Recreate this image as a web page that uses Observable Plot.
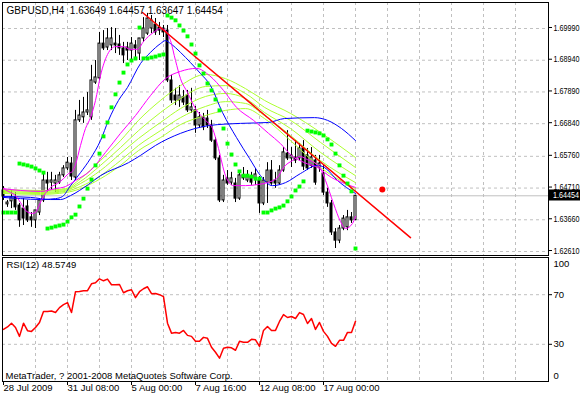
<!DOCTYPE html>
<html><head><meta charset="utf-8">
<script src="https://cdn.jsdelivr.net/npm/d3@7"></script>
<script src="https://cdn.jsdelivr.net/npm/@observablehq/plot@0.6"></script>
<style>
body{margin:0;background:#fff;}
#chart{position:relative;width:580px;height:398px;overflow:hidden;background:#fff;}
#chart svg{display:block;}
</style></head><body><div id="chart"></div>
<script>
// ---- Data ----
const symbol = "GBPUSD", timeframe = "H4";
const open = [1.6463,1.6417,1.6427,1.6440,1.6413,1.6403,1.6410,1.6374,1.6364,1.6390,
1.6430,1.6496,1.6489,1.6486,1.6489,1.6513,1.6536,1.6552,1.6506,1.6695,
1.6705,1.6721,1.6705,1.6820,1.6834,1.6949,1.6936,1.6943,1.6949,1.6946,
1.6933,1.6936,1.6926,1.6943,1.6916,1.6966,1.6982,1.6999,1.7012,1.7002,
1.6999,1.6992,1.6827,1.6777,1.6761,1.6771,1.6777,1.6728,1.6728,1.6678,
1.6705,1.6701,1.6678,1.6628,1.6569,1.6430,1.6503,1.6489,1.6486,1.6436,
1.6513,1.6496,1.6509,1.6503,1.6496,1.6420,1.6489,1.6529,1.6496,1.6486,
1.6529,1.6585,1.6569,1.6572,1.6569,1.6602,1.6579,1.6545,1.6562,1.6539,
1.6519,1.6456,1.6420,1.6324,1.6297,1.6337,1.6341,1.6374,1.63649];
const high = [1.6476,1.6430,1.6463,1.6456,1.6420,1.6436,1.6430,1.6390,1.6397,1.6436,
1.6519,1.6523,1.6523,1.6513,1.6523,1.6545,1.6572,1.6572,1.6728,1.6761,
1.6771,1.6787,1.6877,1.6893,1.6986,1.6992,1.6999,1.7002,1.6999,1.6976,
1.6953,1.6953,1.6969,1.6959,1.6966,1.7035,1.7049,1.7042,1.7032,1.7019,
1.7009,1.7009,1.6844,1.6801,1.6810,1.6794,1.6794,1.6801,1.6741,1.6721,
1.6718,1.6728,1.6695,1.6638,1.6579,1.6513,1.6529,1.6523,1.6503,1.6523,
1.6539,1.6529,1.6523,1.6536,1.6509,1.6506,1.6555,1.6562,1.6523,1.6545,
1.6605,1.6661,1.6605,1.6628,1.6618,1.6628,1.6602,1.6605,1.6579,1.6579,
1.6545,1.6470,1.6430,1.6337,1.6347,1.6380,1.6397,1.6390,1.64457];
const low = [1.6430,1.6407,1.6403,1.6397,1.6341,1.6347,1.6357,1.6341,1.6337,1.6380,
1.6423,1.6456,1.6463,1.6456,1.6483,1.6506,1.6529,1.6496,1.6496,1.6688,
1.6685,1.6711,1.6695,1.6814,1.6827,1.6926,1.6926,1.6926,1.6916,1.6910,
1.6883,1.6893,1.6893,1.6893,1.6893,1.6953,1.6976,1.6982,1.6976,1.6976,
1.6969,1.6820,1.6751,1.6744,1.6738,1.6744,1.6721,1.6718,1.6652,1.6668,
1.6661,1.6668,1.6622,1.6562,1.6423,1.6423,1.6480,1.6480,1.6423,1.6430,
1.6496,1.6489,1.6480,1.6480,1.6387,1.6413,1.6420,1.6480,1.6470,1.6480,
1.6523,1.6562,1.6539,1.6552,1.6562,1.6529,1.6529,1.6536,1.6480,1.6523,
1.6446,1.6407,1.6314,1.6271,1.6287,1.6330,1.6330,1.6354,1.63647];
const close = [1.6443,1.6423,1.6440,1.6407,1.6364,1.6370,1.6364,1.6364,1.6397,1.6430,
1.6496,1.6486,1.6496,1.6496,1.6513,1.6536,1.6555,1.6509,1.6695,1.6711,
1.6721,1.6728,1.6827,1.6837,1.6949,1.6933,1.6966,1.6966,1.6943,1.6933,
1.6910,1.6926,1.6949,1.6933,1.6966,1.6999,1.7032,1.7026,1.6986,1.6992,
1.6986,1.6827,1.6761,1.6761,1.6777,1.6754,1.6728,1.6738,1.6678,1.6705,
1.6672,1.6678,1.6628,1.6569,1.6430,1.6496,1.6486,1.6503,1.6436,1.6513,
1.6503,1.6513,1.6489,1.6516,1.6420,1.6496,1.6529,1.6486,1.6486,1.6529,
1.6589,1.6569,1.6579,1.6562,1.6602,1.6542,1.6536,1.6572,1.6489,1.6552,
1.6456,1.6420,1.6324,1.6297,1.6337,1.6370,1.6374,1.6364,1.64454];

const sarValue = [1.6390,1.6390,1.6390,1.6390,1.6552,1.6549,1.6546,1.6542,1.6536,1.6529,
1.6522,1.6337,1.6340,1.6344,1.6347,1.6350,1.6360,1.6374,1.6383,1.6410,
1.6436,1.6469,1.6499,1.6546,1.6585,1.6642,1.6688,1.6738,1.6781,1.6820,
1.6853,1.6880,1.6893,1.6900,1.7002,1.6900,1.6900,1.6903,1.6906,1.6910,
1.6913,1.7042,1.7035,1.7026,1.7009,1.6992,1.6973,1.6946,1.6916,1.6877,
1.6850,1.6817,1.6794,1.6764,1.6728,1.6668,1.6618,1.6582,1.6549,1.6526,
1.6512,1.6512,1.6509,1.6502,1.6502,1.6390,1.6390,1.6397,1.6403,1.6407,
1.6413,1.6427,1.6443,1.6463,1.6476,1.6493,1.6661,1.6658,1.6655,1.6652,
1.6645,1.6632,1.6615,1.6585,1.6546,1.6512,1.6486,1.6460,1.6271];

const rsiValue = [42,44,47,43.6,36.4,47,41,40.4,43.6,47.6,
56.4,56.4,56.8,55.6,59.6,62,63.6,55.6,72.4,72.6,
73.2,73.2,78.8,79.6,82.8,81.2,82.6,78,78,78.2,
71.6,73.2,74,67.6,72.4,74.8,76.4,70.8,71,70,
68.4,47,39,39.6,39,41.2,37.2,36.4,32.4,32.4,
35.6,34.8,27.6,23.6,18.8,26.8,27.6,27.2,25.2,32.4,
31.6,31.6,34,33.6,28.4,41.2,44.4,41.2,41.2,48.4,
54,51.6,52.4,50.8,55.6,54,46.8,50.8,42,47.6,
40.4,36.4,30.8,28.4,33.2,33.2,39.6,39.6,48.5749];

// moving averages (bar position, price)
const maFastBar = [0,1.75,3,4.25,5.5,7.25,8,9,10,11.75,13.5,15,16.25,17.25,18,19.25,20.5,21.75,23,24.25,26,28,30,31.75,33.5,35,37.5,39.25,40.5,41.75,43,44.25,46,48,50.5,52.25,53.75,55.5,57.5,60.5,63.75,66,68.5,70,72.25,74.25,76,77.75,79.25,80.5,82.5,84.25,85.5,87.25,88];
const maFastVal = [1.6469,1.6456,1.6446,1.6423,1.6397,1.6387,1.6390,1.6417,1.6443,1.6473,1.6486,1.6502,1.6519,1.6526,1.6549,1.6612,1.6668,1.6704,1.6761,1.6843,1.6913,1.6939,1.6939,1.6930,1.6930,1.6956,1.6986,1.6999,1.6992,1.6959,1.6893,1.6833,1.6787,1.6734,1.6695,1.6668,1.6602,1.6512,1.6479,1.6479,1.6483,1.6489,1.6506,1.6539,1.6562,1.6575,1.6565,1.6555,1.6536,1.6496,1.6420,1.6360,1.6337,1.6354,1.6377];
const maSlowBar = [0,4.25,9.25,13,15.5,18,21.75,25.5,29.25,33,36.75,40.5,44.25,48.25,51.5,55,58.25,62.5,66.25,69.25,72,75.25,78.5,82,85.25,88];
const maSlowVal = [1.6469,1.6463,1.6460,1.6469,1.6476,1.6496,1.6529,1.6589,1.6652,1.6711,1.6777,1.6833,1.6857,1.6867,1.6843,1.6794,1.6738,1.6695,1.6652,1.6618,1.6579,1.6555,1.6539,1.6506,1.6486,1.6473];
const blueFastBar = [0,4.25,9.25,13,14.75,16.75,19.25,21.75,24.25,26.25,28.75,31,34.25,36.75,39.25,40.5,41.75,44.25,46.75,49.25,51.75,54.75,58.25,61.5,64.25,67.25,70.5,74.25,78.5,80.25,83.5,88];
const blueFastVal = [1.6440,1.6436,1.6433,1.6436,1.6443,1.6479,1.6522,1.6569,1.6628,1.6695,1.6761,1.6804,1.6883,1.6920,1.6949,1.6959,1.6949,1.6920,1.6886,1.6850,1.6810,1.6721,1.6638,1.6569,1.6512,1.6479,1.6489,1.6519,1.6546,1.6539,1.6496,1.6453];
const blueSlowBar = [0,6.75,11.75,14.25,16.75,21.25,24.25,31.25,34.25,38,44.25,51.5,59.25,66.25,70.25,77.75,81,84.5,88];
const blueSlowVal = [1.6443,1.6440,1.6433,1.6433,1.6446,1.6483,1.6512,1.6555,1.6579,1.6612,1.6652,1.6678,1.6685,1.6688,1.6701,1.6704,1.6695,1.6668,1.6628];
const ribbonBar = [0,9.25,15.5,19.25,24.25,29.25,33.75,39.25,44.25,50.5,55.5,60.5,65.25,71.75,79.25,88];
const ribbon1 = [1.6466,1.6463,1.6469,1.6502,1.6562,1.6628,1.6695,1.6761,1.6810,1.6847,1.6833,1.6800,1.6761,1.6718,1.6655,1.6572];
const ribbon2 = [1.6463,1.6460,1.6466,1.6493,1.6546,1.6605,1.6661,1.6721,1.6767,1.6807,1.6810,1.6784,1.6738,1.6695,1.6622,1.6539];
const ribbon3 = [1.6460,1.6456,1.6463,1.6486,1.6529,1.6585,1.6635,1.6688,1.6734,1.6774,1.6784,1.6767,1.6721,1.6668,1.6589,1.6512];
const ribbon4 = [1.6456,1.6453,1.6460,1.6476,1.6512,1.6562,1.6612,1.6661,1.6704,1.6741,1.6757,1.6751,1.6711,1.6645,1.6562,1.6489];
const ribbon5 = [1.6453,1.6450,1.6456,1.6469,1.6502,1.6546,1.6595,1.6638,1.6681,1.6711,1.6728,1.6734,1.6701,1.6628,1.6539,1.6469];

const trendBar = [34.75, 101.75];
const trendVal = [1.7052, 1.6307];
const markerBar = [94.7];
const markerVal = [1.6466];

const priceTicks = [1.69990,1.68940,1.67890,1.66840,1.65760,1.64710,1.63660,1.62610];
const gridBars = [8,16,24,32,40,48,56,64,72,80,88,96,104,112,120,128];
const dateBars = [0,16,32,48,64,80];
const dateLabels = ["28 Jul 2009","31 Jul 08:00","5 Aug 00:00","7 Aug 16:00","12 Aug 08:00","17 Aug 00:00"];
const rsiLevels = [70, 30];
const rsiBounds = [100, 0];
const rsiPeriod = 12;
const copyright = "MetaTrader, ? 2001-2008 MetaQuotes Software Corp.";

// ---- Build ----
const last = close.length - 1;
const lastClose = close[last];
const bars = open.map((o, i) => ({i, o, h: high[i], l: low[i], c: close[i]}));
const up = bars.filter(d => d.c > d.o), down = bars.filter(d => d.c <= d.o);
const zip = (b, v) => b.map((x, k) => ({x, y: v[k]}));
const sar = sarValue.map((y, i) => ({x: i, y}));
const rsi = rsiValue.map((y, i) => ({x: i, y}));
const dateMap = new Map(dateBars.map((b, k) => [b, dateLabels[k]]));

const FONT = "'Liberation Sans', Arial, sans-serif";
const xDomain = [-0.25, 136.25];
const gridStyle = {stroke: "#c0c0c0", strokeOpacity: 1, strokeDasharray: "3,3"};
const lineOpts = (data, color) => Plot.line(data, {x: "x", y: "y", stroke: color, strokeWidth: 1, curve: "monotone-x"});
const header = `${symbol},${timeframe}\u00A0 ${open[last].toFixed(5)} ${high[last].toFixed(5)} ${low[last].toFixed(5)} ${close[last].toFixed(5)}`;

const main = Plot.plot({
  width: 580, height: 256,
  marginLeft: 2, marginRight: 32, marginTop: 2, marginBottom: 1,
  x: {domain: xDomain, axis: null, label: null},
  y: {domain: [1.62478, 1.70850], label: null},
  style: {fontFamily: FONT, fontSize: "9.5px", background: "transparent", color: "black"},
  marks: [
    Plot.gridX(gridBars, gridStyle),
    Plot.gridY(priceTicks, gridStyle),
    Plot.ruleY([lastClose], {stroke: "#c0c0c0"}),
    Plot.ruleX(bars, {x: "i", y1: "l", y2: "h", stroke: "black"}),
    Plot.rect(up, {x1: d => d.i - 0.25, x2: d => d.i + 0.25, y1: "o", y2: "c", fill: "white", stroke: "black"}),
    Plot.rect(down, {x1: d => d.i - 0.25, x2: d => d.i + 0.25, y1: "o", y2: "c", fill: "black", stroke: "black"}),
    lineOpts(zip(ribbonBar, ribbon5), "#adff2f"),
    lineOpts(zip(ribbonBar, ribbon4), "#adff2f"),
    lineOpts(zip(ribbonBar, ribbon3), "#adff2f"),
    lineOpts(zip(ribbonBar, ribbon2), "#adff2f"),
    lineOpts(zip(ribbonBar, ribbon1), "#adff2f"),
    lineOpts(zip(blueSlowBar, blueSlowVal), "#0000ff"),
    lineOpts(zip(blueFastBar, blueFastVal), "#0000ff"),
    lineOpts(zip(maSlowBar, maSlowVal), "#ff00ff"),
    lineOpts(zip(maFastBar, maFastVal), "#ff00ff"),
    Plot.line(zip(trendBar, trendVal), {x: "x", y: "y", stroke: "#ff0000"}),
    Plot.dot(sar, {x: "x", y: "y", symbol: "square", r: 2.2, fill: "#00ff00"}),
    Plot.dot(zip(markerBar, markerVal), {x: "x", y: "y", r: 3, fill: "#ff0000"}),
    Plot.axisY(priceTicks, {anchor: "right", tickSize: 3, tickPadding: 2, dy: -1, tickFormat: d => d.toFixed(5)}),
    Plot.frame({stroke: "black"}),
    Plot.text([header], {frameAnchor: "top-left", dx: 4, dy: 4, fill: "black", fontSize: 10})
  ]
});

const rsiPlot = Plot.plot({
  width: 580, height: 142,
  marginLeft: 2, marginRight: 32, marginTop: 1, marginBottom: 17,
  x: {domain: xDomain, label: null},
  y: {domain: [0, 100], label: null},
  style: {fontFamily: FONT, fontSize: "9.5px", background: "transparent", color: "black"},
  marks: [
    Plot.gridX(gridBars, gridStyle),
    Plot.gridY(rsiLevels, gridStyle),
    Plot.line(rsi, {x: "x", y: "y", stroke: "#ff0000"}),
    Plot.axisY(rsiLevels, {anchor: "right", tickSize: 3, tickPadding: 2}),
    Plot.text([rsiBounds[0]], {y: d => d, frameAnchor: "right", textAnchor: "start", dx: 5, dy: 6, fill: "black"}),
    Plot.text([rsiBounds[1]], {y: d => d, frameAnchor: "right", textAnchor: "start", dx: 5, dy: -6, fill: "black"}),
    Plot.axisX(dateBars, {anchor: "bottom", tickSize: 4, tickPadding: -1, textAnchor: "start", tickFormat: d => dateMap.get(d)}),
    Plot.frame({stroke: "black"}),
    Plot.text([`RSI(${rsiPeriod}) ${rsiValue[last].toFixed(4)}`], {frameAnchor: "top-left", dx: 4, dy: 4, fill: "black"}),
    Plot.text([copyright], {frameAnchor: "bottom-left", dx: 3, dy: -3, fill: "black"})
  ]
});

// narrow the price labels so they fit the axis strip like the reference
d3.select(main).selectAll('g[aria-label="y-axis tick label"] text')
  .attr("textLength", 26).attr("lengthAdjust", "spacingAndGlyphs");

// current price label box on the price axis
const yLast = main.scale("y").apply(lastClose);
const g = d3.select(main).append("g").attr("text-anchor", "start");
g.append("rect").attr("x", 549).attr("y", Math.round(yLast) - 5.5).attr("width", 31).attr("height", 11).attr("fill", "black");
g.append("text").attr("x", 553).attr("y", Math.round(yLast)).attr("dy", "0.34em")
  .attr("text-anchor", "start")
  .attr("fill", "white").attr("font-family", FONT).attr("font-size", "9.5px")
  .attr("textLength", 26).attr("lengthAdjust", "spacingAndGlyphs").text(lastClose.toFixed(5));

const chart = document.getElementById("chart");
chart.appendChild(main);
chart.appendChild(rsiPlot);
</script></body></html>
